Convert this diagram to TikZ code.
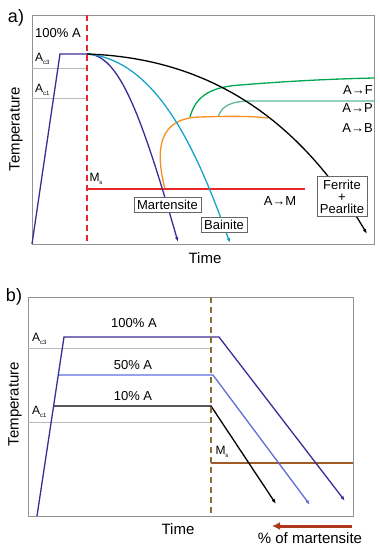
\documentclass[tikz,border=0pt]{standalone}
\usepackage{fontspec}
\setmainfont{Liberation Sans}
\usetikzlibrary{positioning}
\usetikzlibrary{arrows.meta}
\definecolor{indigo}{RGB}{58,44,150}
\definecolor{cyanline}{RGB}{23,163,200}
\definecolor{greenF}{RGB}{0,166,81}
\definecolor{greenP}{RGB}{96,184,150}
\definecolor{orangeB}{RGB}{247,143,30}
\definecolor{redM}{RGB}{230,40,40}
\definecolor{blueH}{RGB}{95,110,215}
\definecolor{brownD}{RGB}{140,110,50}
\definecolor{brownM}{RGB}{160,90,40}
\definecolor{arrowred}{RGB}{175,55,30}
\newcommand{\lowidx}[1]{\raisebox{-0.35ex}{\fontsize{6}{6}\selectfont #1}}

\begin{document}
\begin{tikzpicture}[
    x=1pt, y=-1pt,
    lbl/.style={inner sep=0pt, font=\fontsize{13}{15}\selectfont},
    small/.style={inner sep=0pt, font=\fontsize{12}{14}\selectfont},
    axlbl/.style={inner sep=0pt, font=\fontsize{15}{17}\selectfont},
    panel/.style={inner sep=0pt, font=\fontsize{18}{20}\selectfont},
    phase/.style={rectangle, draw=gray!80!black, fill=white, line width=0.6pt, inner sep=3pt, align=center, font=\fontsize{13}{12}\selectfont},
    frame/.style={draw=gray!85, line width=0.9pt},
    aclevel/.style={draw=gray!55, line width=0.5pt},
    curve/.style={line width=1.3pt},
    >={Latex[length=5pt,width=3.5pt]}
]
    \useasboundingbox (0,0) rectangle (380,550);

    % a) continuous cooling
    \node[panel] (pa) at (16,18) {a)};
    \draw[frame] (32,15) rectangle (374,244);
    \draw[aclevel] (32,68) -- (87,68);
    \draw[aclevel] (32,98) -- (87,98);
    \node[small, anchor=west] (ac3a) at (35,59) {A\lowidx{c3}};
    \node[small, anchor=west] (ac1a) at (35,90) {A\lowidx{c1}};
    \node[lbl] (fulla) at (58,33) {100\% A};

    \coordinate (a-start) at (32,244);
    \coordinate (a-top) at (60,54);
    \coordinate (a-hold) at (87,54);
    \coordinate (a-mart) at (178,242);
    \coordinate (a-bain) at (230,243);
    \coordinate (a-pearl) at (367,234);
    \coordinate (a-nose) at (165,189);
    \coordinate (a-arm) at (200,117);
    \coordinate (a-armend) at (268,118);
    \coordinate (a-ferr) at (190,117);
    \coordinate (a-ferrend) at (374,78);
    \coordinate (a-perl) at (218,117);
    \coordinate (a-perlend) at (374,101);
    \coordinate (a-ms) at (87,189);
    \coordinate (a-msend) at (305,189);

    \draw[curve, greenF] (a-ferr) .. controls (196,95) and (212,87) .. (240,85) .. controls (290,81) and (330,79) .. (a-ferrend);
    \draw[curve, greenP] (a-perl) .. controls (222,106) and (230,101) .. (252,101) -- (a-perlend);
    \draw[curve, orangeB] (a-nose) .. controls (155,150) and (158,118) .. (a-arm) .. controls (230,116) and (250,116) .. (a-armend);
    \draw[curve, redM] (a-ms) -- (a-msend);
    \draw[curve, indigo] (a-start) -- (a-top) -- (a-hold);
    \draw[curve, indigo, ->] (a-hold) .. controls (118,54) and (140,110) .. (a-mart);
    \draw[curve, cyanline, ->] (a-hold) .. controls (160,60) and (200,160) .. (a-bain);
    \draw[curve, black, ->] (a-hold) .. controls (210,58) and (300,120) .. (a-pearl);
    \draw[curve, redM, dash pattern=on 6pt off 4pt] (87,15) -- (87,244);

    \node[small] (msa) at (96,179) {M\lowidx{s}};
    \node[lbl, anchor=east] (toF) at (373,90) {A→F};
    \node[lbl, anchor=east] (toP) at (373,108) {A→P};
    \node[lbl, anchor=east] (toB) at (373,128) {A→B};
    \node[lbl] (toM) at (280,201) {A→M};
    \node[phase] (mart) at (167.5,205) {Martensite};
    \node[phase] (bain) at (224,225) {Bainite};
    \node[phase] (fp) at (342,196.5) {Ferrite\\+\\Pearlite};
    \node[axlbl] (timea) at (205,258) {Time};
    \node[axlbl, rotate=90] (tempa) at (16,129) {Temperature};

    % b) partial austenitisation
    \node[panel] (pb) at (14,297) {b)};
    \draw[frame] (28,297) rectangle (353,516);
    \draw[aclevel] (28,348) -- (211,348);
    \draw[aclevel] (28,422) -- (211,422);
    \node[small, anchor=west] (ac3b) at (32,339) {A\lowidx{c3}};
    \node[small, anchor=west] (ac1b) at (32,412) {A\lowidx{c1}};

    \coordinate (b-start) at (37,516);
    \coordinate (b-top) at (64,337);
    \coordinate (b-full) at (219,337);
    \coordinate (b-fullend) at (345,501);
    \coordinate (b-half) at (58,375);
    \coordinate (b-halfq) at (213,375);
    \coordinate (b-halfend) at (310,505);
    \coordinate (b-ten) at (54,406);
    \coordinate (b-tenq) at (211,406);
    \coordinate (b-tenend) at (276,504);
    \coordinate (b-ms) at (211,463);
    \coordinate (b-msend) at (353,463);

    \draw[curve, brownM] (b-ms) -- (b-msend);
    \draw[curve, blueH, ->] (b-half) -- (b-halfq) -- (b-halfend);
    \draw[curve, black, ->] (b-ten) -- (b-tenq) -- (b-tenend);
    \draw[curve, indigo, ->] (b-start) -- (b-top) -- (b-full) -- (b-fullend);
    \draw[curve, brownD, dash pattern=on 6pt off 4pt] (211,297) -- (211,516);

    \node[lbl] (fullb) at (134,323) {100\% A};
    \node[lbl] (halfb) at (133,365) {50\% A};
    \node[lbl] (tenb) at (133,396) {10\% A};
    \node[small] (msb) at (222,452) {M\lowidx{s}};
    \node[axlbl] (timeb) at (178,529) {Time};
    \node[axlbl, rotate=90] (tempb) at (15,404) {Temperature};

    \coordinate (mart-from) at (352,526);
    \coordinate (mart-to) at (272,526);
    \draw[line width=3pt, arrowred, -{Latex[length=8pt,width=8pt]}] (mart-from) -- (mart-to);
    \node[axlbl] (martpct) at (310,538) {\% of martensite};
\end{tikzpicture}
\end{document}
